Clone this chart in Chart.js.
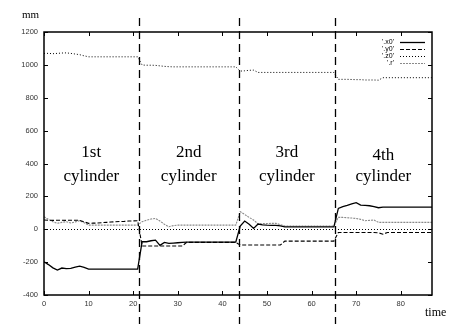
<!DOCTYPE html>
<html>
<head>
<meta charset="utf-8">
<script src="https://cdn.jsdelivr.net/npm/chart.js@4"></script>
<style>
  html, body { margin: 0; padding: 0; background: #fff; }
  #wrap { width: 459px; height: 324px; }
</style>
</head>
<body>
<div id="wrap"><canvas id="c" width="459" height="324"></canvas></div>
<script>
// time axis, one sample per step
const time = [];
for (let t = 0; t <= 87; t++) time.push(t);

const x0 = [
  -198, -215, -235, -248, -236, -240, -238, -230, -224, -232, -242,
  -242, -242, -242, -242, -242, -242, -242, -242, -242, -242, -242,
  -76, -76, -70, -66, -98, -80, -86, -84, -82, -80,
  -78, -78, -78, -78, -78, -78, -78, -78, -78, -78, -78, -78,
  20, 50, 30, 5, 32, 27, 25, 24, 23, 20,
  14, 14, 14, 14, 14, 14, 14, 14, 14, 14, 14, 14,
  127, 137, 145, 155, 162, 147, 145, 143, 138, 131,
  134, 134, 134, 134, 134, 134, 134, 134, 134, 134, 134, 134
];
const y0 = [
  56, 55, 54, 55, 55, 54, 55, 55, 54, 45, 36,
  37, 38, 40, 42, 44, 46, 47, 48, 50, 51, 52,
  -102, -102, -102, -102, -102, -102, -102, -102, -102, -102,
  -80, -80, -80, -80, -80, -80, -80, -80, -80, -80, -80, -80,
  -96, -96, -96, -96, -96, -96, -96, -96, -96, -96,
  -72, -72, -72, -72, -72, -72, -72, -72, -72, -72, -72, -72,
  -20, -20, -20, -20, -20, -20, -20, -20, -20, -22,
  -30, -20, -20, -20, -20, -20, -20, -20, -20, -20, -20, -20
];
const z0 = [
  1070, 1070, 1068, 1070, 1072, 1073, 1070, 1066, 1062, 1055, 1049,
  1049, 1049, 1049, 1049, 1049, 1049, 1049, 1049, 1049, 1049, 1049,
  999, 998, 998, 997, 994, 991, 989, 988,
  988, 988, 988, 988, 988, 988, 988, 988, 988, 988, 988, 988, 988, 988,
  962, 964, 967, 968, 954,
  954, 954, 954, 954, 954, 954, 954, 954, 954, 954, 954, 954, 954, 954, 954, 954, 954,
  912, 912, 912, 911, 910, 910, 908, 908, 908, 907,
  922, 922, 922, 922, 922, 922, 922, 922, 922, 922, 922, 922
];
const r = [
  76, 60, 45, 36, 42, 46, 38, 45, 52, 40, 25,
  25, 25, 25, 25, 25, 25, 25, 25, 25, 25, 25,
  46, 55, 62, 66, 50, 30, 15, 22,
  25, 25, 25, 25, 25, 25, 25, 25, 25, 25, 25, 25, 25, 25,
  107, 90, 72, 56, 32, 34, 35, 36, 36, 28,
  20, 20, 20, 20, 20, 20, 20, 20, 20, 20, 20, 20,
  72, 72, 70, 68, 66, 60, 52, 54, 56, 42,
  42, 42, 42, 42, 42, 42, 42, 42, 42, 42, 42, 42
];

const seriesNames = ["'.x0'", "'.y0'", "'.z0'", "'.r'"];
const cutTimes = [21.2, 43.7, 65.2];
const segLabels = ['1st', '2nd', '3rd', '4th'];
const xTicks = [0, 10, 20, 30, 40, 50, 60, 70, 80];
const yTicks = [-400, -200, 0, 200, 400, 600, 800, 1000, 1200];

const styles = [
  { color: '#000', width: 1.3, dash: [] },
  { color: '#000', width: 1.1, dash: [4, 2] },
  { color: '#000', width: 1.0, dash: [1, 2] },
  { color: '#8a8a8a', width: 1.1, dash: [2, 1] }
];

function pts(arr) { return arr.map((v, i) => ({ x: time[i], y: v })); }

const datasets = [x0, y0, z0, r].map((arr, i) => ({
  label: seriesNames[i],
  data: pts(arr),
  borderColor: styles[i].color,
  borderWidth: styles[i].width,
  borderDash: styles[i].dash,
  pointRadius: 0,
  tension: 0,
  fill: false
}));

const frame = {
  id: 'frame',
  beforeDatasetsDraw(chart) {
    const { ctx, chartArea: a, scales: { x, y } } = chart;
    ctx.save();
    // zero axis
    ctx.strokeStyle = '#000';
    ctx.lineWidth = 1;
    ctx.setLineDash([1, 2]);
    const y0p = Math.round(y.getPixelForValue(0)) + 0.5;
    ctx.beginPath(); ctx.moveTo(a.left, y0p); ctx.lineTo(a.right, y0p); ctx.stroke();
    ctx.restore();
  },
  afterDatasetsDraw(chart) {
    const { ctx, chartArea: a, scales: { x, y } } = chart;
    ctx.save();
    ctx.strokeStyle = '#000';
    ctx.setLineDash([]);
    ctx.lineWidth = 1.5;
    ctx.strokeRect(a.left, a.top, a.right - a.left, a.bottom - a.top);
    ctx.lineWidth = 1;
    xTicks.forEach(v => {
      const px = Math.round(x.getPixelForValue(v)) + 0.5;
      ctx.beginPath();
      ctx.moveTo(px, a.bottom); ctx.lineTo(px, a.bottom - 4);
      ctx.moveTo(px, a.top); ctx.lineTo(px, a.top + 4);
      ctx.stroke();
    });
    yTicks.forEach(v => {
      const py = Math.round(y.getPixelForValue(v)) + 0.5;
      ctx.beginPath();
      ctx.moveTo(a.left, py); ctx.lineTo(a.left + 4, py);
      ctx.moveTo(a.right, py); ctx.lineTo(a.right - 4, py);
      ctx.stroke();
    });

    // cylinder boundaries
    ctx.lineWidth = 1.3;
    ctx.setLineDash([8, 5]);
    cutTimes.forEach(t => {
      const px = Math.round(x.getPixelForValue(t)) + 0.5;
      ctx.beginPath(); ctx.moveTo(px, 18); ctx.lineTo(px, chart.height); ctx.stroke();
    });
    ctx.setLineDash([]);

    // segment labels
    const bounds = [x.min].concat(cutTimes, [x.max]);
    ctx.fillStyle = '#000';
    ctx.font = '17px "Liberation Serif", "DejaVu Serif", serif';
    ctx.textAlign = 'center';
    ctx.textBaseline = 'middle';
    segLabels.forEach((lab, i) => {
      const cx = (x.getPixelForValue(bounds[i]) + x.getPixelForValue(bounds[i + 1])) / 2;
      const dy = i === 3 ? 3 : 0;
      ctx.fillText(lab, cx, y.getPixelForValue(465) + dy);
      ctx.fillText('cylinder', cx, y.getPixelForValue(318));
    });

    // axis titles
    ctx.font = '11px "Liberation Serif", serif';
    ctx.textAlign = 'left';
    ctx.fillText('mm', 22, 15);
    ctx.font = '12px "Liberation Serif", serif';
    ctx.fillText('time', 425, 313);

    // legend
    ctx.font = '7px "Liberation Sans", sans-serif';
    ctx.textAlign = 'right';
    chart.data.datasets.forEach((ds, i) => {
      const ly = 42 + i * 7;
      ctx.fillStyle = '#000';
      ctx.fillText(ds.label, 394, ly);
      ctx.strokeStyle = ds.borderColor;
      ctx.lineWidth = ds.borderWidth;
      ctx.setLineDash(ds.borderDash);
      ctx.beginPath(); ctx.moveTo(400, ly + 0.5); ctx.lineTo(425, ly + 0.5); ctx.stroke();
    });
    ctx.restore();
  }
};

new Chart(document.getElementById('c'), {
  type: 'line',
  data: { datasets },
  options: {
    responsive: false,
    animation: false,
    events: [],
    layout: { padding: { top: 32, right: 27, left: 0, bottom: 0 } },
    plugins: { legend: { display: false }, tooltip: { enabled: false } },
    scales: {
      x: {
        type: 'linear',
        min: 0, max: 87,
        afterBuildTicks(s) { s.ticks = xTicks.map(v => ({ value: v })); },
        afterFit(s) { s.height = 29; },
        grid: { display: false, drawTicks: false },
        border: { display: false },
        ticks: {
          color: '#333',
          font: { family: 'Liberation Sans', size: 7.5 },
          padding: 4,
          maxRotation: 0,
          callback: v => String(v)
        }
      },
      y: {
        min: -400, max: 1200,
        afterBuildTicks(s) { s.ticks = yTicks.map(v => ({ value: v })); },
        afterFit(s) { s.width = 44; },
        grid: { display: false, drawTicks: false },
        border: { display: false },
        ticks: {
          color: '#333',
          font: { family: 'Liberation Sans', size: 7.5 },
          padding: 6,
          callback: v => String(v)
        }
      }
    }
  },
  plugins: [frame]
});
</script>
</body>
</html>
